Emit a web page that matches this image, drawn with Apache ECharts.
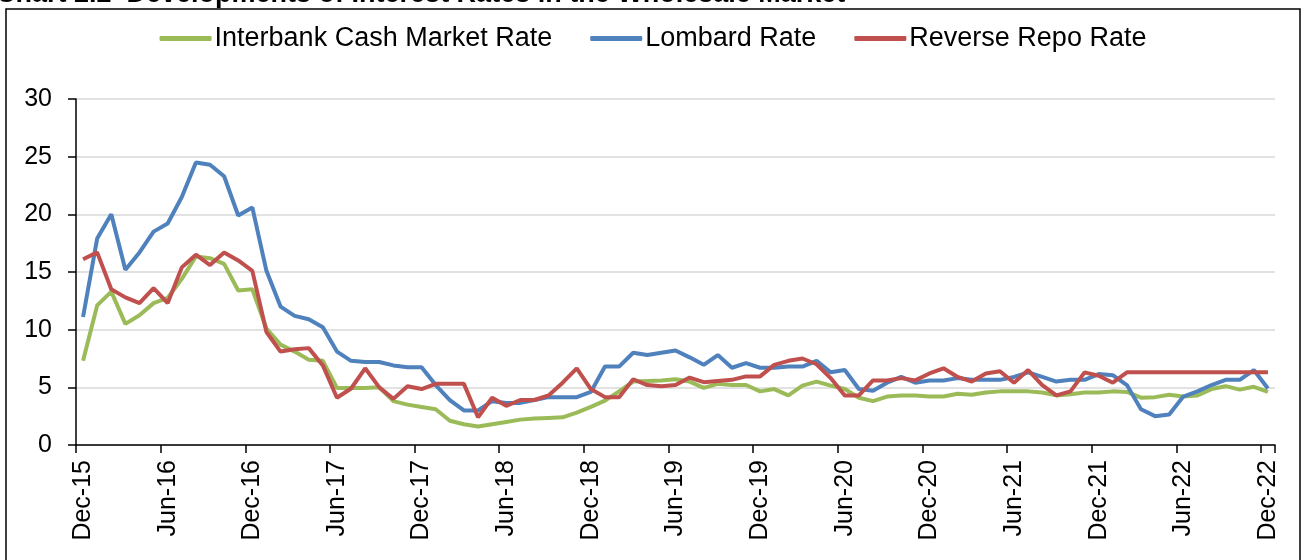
<!DOCTYPE html>
<html>
<head>
<meta charset="utf-8">
<script src="https://cdn.jsdelivr.net/npm/echarts@6/dist/echarts.min.js"></script>
<style>
  html, body { margin: 0; padding: 0; background: #fff; }
  #chart { width: 1306px; height: 560px; }
</style>
</head>
<body>
<div id="chart"></div>
<script>
// month labels Dec-15 .. Dec-22
var monthNames = ['Jan', 'Feb', 'Mar', 'Apr', 'May', 'Jun', 'Jul', 'Aug', 'Sep', 'Oct', 'Nov', 'Dec'];
var categories = [];
for (var k = 0; k < 85; k++) {
  var m = (11 + k) % 12;
  var yr = 15 + Math.floor((11 + k) / 12);
  categories.push(monthNames[m] + '-' + yr);
}

var interbank = [
  7.3, 12.1, 13.3, 10.5, 11.25, 12.3, 12.75, 14.4, 16.35, 16.2, 15.7, 13.4,
  13.5, 10.1, 8.7, 8.1, 7.4, 7.3, 4.95, 4.95, 4.95, 5.0, 3.8, 3.5,
  3.3, 3.1, 2.1, 1.8, 1.6, 1.8, 2.0, 2.2, 2.3, 2.35, 2.4, 2.8,
  3.3, 3.85, 4.65, 5.5, 5.55, 5.6, 5.7, 5.5, 4.95, 5.3, 5.2, 5.2,
  4.65, 4.85, 4.3, 5.15, 5.5, 5.15, 4.85, 4.1, 3.8, 4.2, 4.3, 4.3,
  4.2, 4.2, 4.45, 4.35, 4.55, 4.65, 4.65, 4.65, 4.55, 4.3, 4.4, 4.55,
  4.55, 4.65, 4.6, 4.1, 4.15, 4.35, 4.2, 4.3, 4.85, 5.1, 4.8, 5.05,
  4.6
];
var lombard = [
  11.1, 17.9, 20.0, 15.2, 16.7, 18.5, 19.2, 21.5, 24.5, 24.3, 23.3, 19.9,
  20.6, 15.1, 12.0, 11.2, 10.9, 10.2, 8.1, 7.3, 7.2, 7.2, 6.9, 6.75,
  6.75, 5.2, 3.9, 3.0, 3.0, 3.8, 3.65, 3.65, 3.9, 4.15, 4.15, 4.15,
  4.6, 6.8, 6.8, 8.0, 7.8, 8.0, 8.2, 7.6, 6.95, 7.8, 6.7, 7.1,
  6.7, 6.7, 6.8, 6.8, 7.3, 6.3, 6.5, 4.85, 4.7, 5.4, 5.9, 5.4,
  5.6, 5.6, 5.8, 5.65, 5.65, 5.65, 5.9, 6.3, 5.9, 5.5, 5.65, 5.65,
  6.15, 6.05, 5.2, 3.1, 2.5, 2.65, 4.2, 4.65, 5.2, 5.65, 5.65, 6.5,
  4.9
];
var reverseRepo = [
  16.1, 16.7, 13.5, 12.8, 12.3, 13.6, 12.3, 15.4, 16.5, 15.6, 16.7, 16.0,
  15.1, 9.8, 8.1, 8.3, 8.4, 6.9, 4.1, 4.9, 6.65, 5.0, 4.0, 5.1,
  4.85, 5.3, 5.3, 5.3, 2.4, 4.1, 3.4, 3.9, 3.9, 4.3, 5.4, 6.65,
  4.85, 4.15, 4.15, 5.7, 5.2, 5.1, 5.2, 5.85, 5.45, 5.55, 5.65, 5.95,
  5.95, 6.95, 7.3, 7.5, 7.0, 5.8, 4.3, 4.3, 5.6, 5.6, 5.8, 5.6,
  6.2, 6.65, 5.9, 5.5, 6.2, 6.4, 5.4, 6.5, 5.2, 4.3, 4.65, 6.3,
  6.0, 5.4, 6.3, 6.3, 6.3, 6.3, 6.3, 6.3, 6.3, 6.3, 6.3, 6.3,
  6.3
];

var font = 'Liberation Sans, Arial, sans-serif';

var chart = echarts.init(document.getElementById('chart'));
chart.setOption({
  animation: false,
  backgroundColor: '#fff',
  graphic: [
    {
      type: 'rect',
      shape: { x: 6, y: 9, width: 1294, height: 570 },
      style: { fill: 'none', stroke: '#000', lineWidth: 1.5 },
      silent: true
    },
    {
      type: 'text',
      x: -4, y: 8,
      style: {
        text: 'Chart 2.2  Developments of Interest Rates in the Wholesale Market',
        font: 'bold 27px ' + font,
        fill: '#000',
        verticalAlign: 'bottom'
      },
      silent: true
    }
  ],
  legend: {
    top: 20,
    left: 'center',
    icon: 'roundRect',
    itemWidth: 52,
    itemHeight: 5,
    itemGap: 38,
    textStyle: { color: '#000', fontSize: 27, fontFamily: font, padding: [0, 0, 0, -2] },
    data: ['Interbank Cash Market Rate', 'Lombard Rate', 'Reverse Repo Rate']
  },
  grid: {
    left: 76, right: 31, top: 99, bottom: 115,
    containLabel: false,
    outerBoundsMode: 'none'
  },
  xAxis: {
    type: 'category',
    data: categories,
    boundaryGap: true,
    axisLine: { lineStyle: { color: '#000', width: 1.5 } },
    axisTick: { show: true, interval: 5, length: 8, lineStyle: { color: '#000', width: 1.5 } },
    axisLabel: { interval: 5, rotate: 90, margin: 15, color: '#000', fontSize: 25, fontFamily: font },
    splitLine: { show: false }
  },
  yAxis: {
    type: 'value',
    min: 0, max: 30, interval: 5,
    axisLine: { show: true, lineStyle: { color: '#000', width: 1.5 } },
    axisTick: { show: true, length: 8, lineStyle: { color: '#000', width: 1.5 } },
    axisLabel: { margin: 24, color: '#000', fontSize: 25, fontFamily: font },
    splitLine: { show: true, lineStyle: { color: '#d9d9d9', width: 1.5 } }
  },
  series: [
    {
      name: 'Interbank Cash Market Rate',
      type: 'line',
      data: interbank,
      symbol: 'none',
      color: '#9bbb59',
      lineStyle: { color: '#9bbb59', width: 4 }
    },
    {
      name: 'Lombard Rate',
      type: 'line',
      data: lombard,
      symbol: 'none',
      color: '#4f81bd',
      lineStyle: { color: '#4f81bd', width: 4 }
    },
    {
      name: 'Reverse Repo Rate',
      type: 'line',
      data: reverseRepo,
      symbol: 'none',
      color: '#c0504d',
      lineStyle: { color: '#c0504d', width: 4 }
    }
  ]
});
</script>
</body>
</html>
